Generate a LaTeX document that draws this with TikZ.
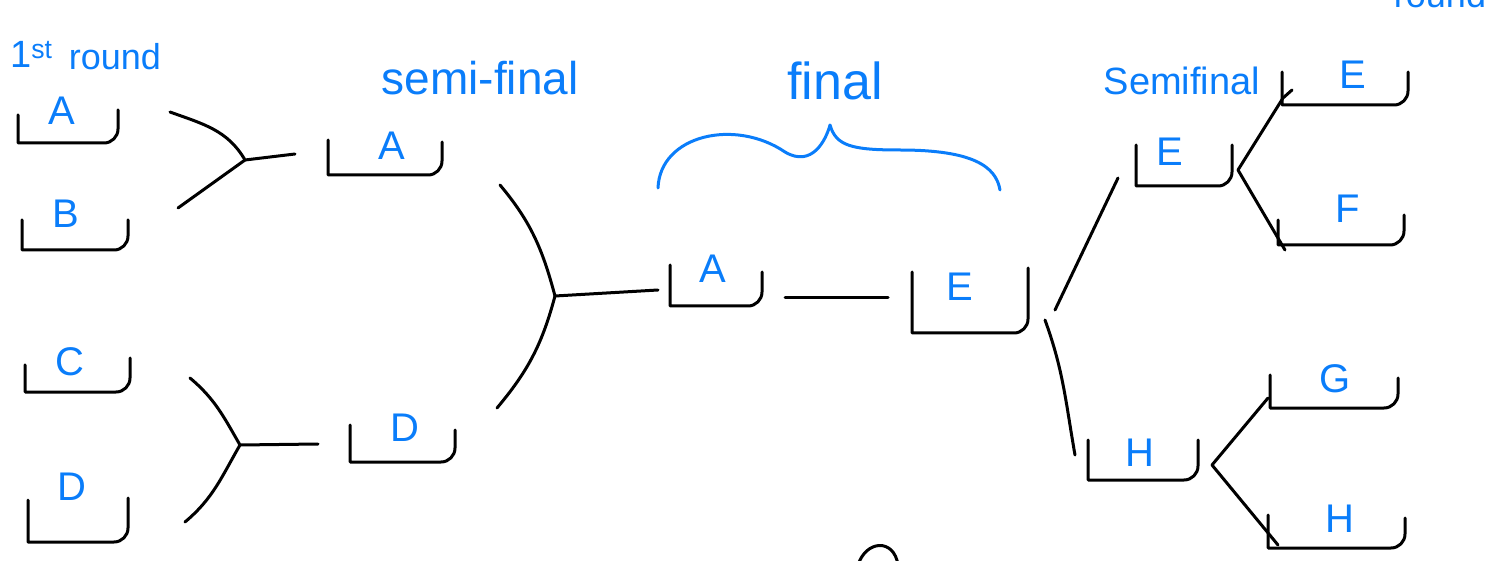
\documentclass[tikz,border=0pt]{standalone}
\usepackage{fontspec}
\setmainfont{Liberation Sans}

\definecolor{ink}{RGB}{10,125,250}

\tikzset{
  stroke/.style={line width=3pt, line cap=round, line join=round},
  team/.style={text=ink, font=\fontsize{40}{40}\selectfont, inner sep=0pt, anchor=base},
  heading/.style={text=ink, font=\fontsize{46}{46}\selectfont, inner sep=0pt, anchor=base},
}

% name, left x, right x, left top, right top, bottom, letter x, letter base, letter
\newcommand{\drawslot}[9]{%
  \draw[stroke] (#2,#4) -- (#2,#6) -- (#3-14,#6) to[out=0,in=-90] (#3,#6-14) -- (#3,#5);
  \node[team] (#1) at (#7,#8) {#9};
}

\begin{document}
\begin{tikzpicture}[x=1pt, y=-1pt]
                \useasboundingbox (0,0) rectangle (1508,561);
                \clip (0,0) rectangle (1508,561);

                % Headings:
                \node[heading, anchor=base west, font=\fontsize{38}{38}\selectfont] (one) at (10,68) {1\textsuperscript{st}};
                \node[heading, font=\fontsize{36}{36}\selectfont] (rnd) at (115,70) {round};
                \node[heading] (semil) at (480,95) {semi-final};
                \node[heading, font=\fontsize{52}{52}\selectfont] (fin) at (835,100) {final};
                \node[heading, font=\fontsize{38}{38}\selectfont] (semir) at (1182,95) {Semifinal};
                \node[heading, font=\fontsize{36}{36}\selectfont] (rndr) at (1440,8) {round};

                % Brace over the final:
                \draw[ink, stroke] (658,188) .. controls (660,135) and (735,118) .. (785,152)
                      .. controls (812,168) and (826,140) .. (830,125)
                      .. controls (836,146) and (852,150) .. (900,150)
                      .. controls (972,150) and (996,166) .. (1000,190);

                % Slots:
                \drawslot{r1a}{18}{118}{115}{110}{143}{62}{125}{A}
                \drawslot{r1b}{22}{128}{220}{220}{250}{66}{228}{B}
                \drawslot{r1c}{25}{130}{365}{358}{392}{70}{376}{C}
                \drawslot{r1d}{28}{128}{500}{498}{542}{72}{500}{D}
                \drawslot{sfa}{328}{442}{140}{142}{175}{392}{160}{A}
                \drawslot{sfd}{350}{455}{425}{430}{462}{405}{441}{D}
                \drawslot{fna}{670}{762}{265}{272}{306}{713}{283}{A}
                \drawslot{fne}{912}{1028}{272}{268}{333}{960}{301}{E}
                \drawslot{sfe}{1136}{1232}{145}{145}{186}{1170}{166}{E}
                \drawslot{sfh}{1088}{1198}{440}{440}{480}{1140}{466}{H}
                \drawslot{r4e}{1282}{1408}{72}{72}{105}{1353}{89}{E}
                \drawslot{r4f}{1278}{1404}{220}{215}{245}{1348}{223}{F}
                \drawslot{r4g}{1270}{1398}{375}{378}{408}{1335}{392}{G}
                \drawslot{r4h}{1268}{1405}{515}{518}{548}{1340}{532}{H}

                % Joints and line ends:
                \coordinate (ab) at (245,160);
                \coordinate (ab-a) at (170,112);
                \coordinate (ab-b) at (178,208);
                \coordinate (ab-s) at (295,154);
                \coordinate (cd) at (240,445);
                \coordinate (cd-c) at (190,378);
                \coordinate (cd-d) at (185,522);
                \coordinate (cd-s) at (318,444);
                \coordinate (ad) at (555,296);
                \coordinate (ad-a) at (500,185);
                \coordinate (ad-d) at (497,408);
                \coordinate (ad-f) at (658,290);
                \coordinate (fa-r) at (785,298);
                \coordinate (fe-l) at (888,298);
                \coordinate (eh-e) at (1055,310);
                \coordinate (eh-h) at (1045,320);
                \coordinate (se-l) at (1118,178);
                \coordinate (sh-l) at (1075,455);
                \coordinate (ef) at (1238,170);
                \coordinate (ef-e) at (1283,98);
                \coordinate (ef-f) at (1285,250);
                \coordinate (gh) at (1212,465);
                \coordinate (gh-g) at (1268,398);
                \coordinate (gh-h) at (1278,545);

                % Connectors:
                \draw[stroke] (ab-a) to[out=-20,in=120] (ab) -- (ab-s);
                \draw[stroke] (ab-b) -- (ab);
                \draw[stroke] (cd-c) to[out=-40,in=120] (cd) -- (cd-s);
                \draw[stroke] (cd-d) to[out=40,in=-120] (cd);
                \draw[stroke] (ad-a) to[out=-50,in=105] (ad) -- (ad-f);
                \draw[stroke] (ad-d) to[out=50,in=-105] (ad);
                \draw[stroke] (fa-r) -- (fe-l);
                \draw[stroke] (eh-e) -- (se-l);
                \draw[stroke] (eh-h) to[out=-70,in=100] (sh-l);
                \draw[stroke] (ef) -- (ef-e) -- (1292,90);
                \draw[stroke] (ef) -- (ef-f);
                \draw[stroke] (gh) -- (gh-g);
                \draw[stroke] (gh) -- (gh-h);

                % Stray stroke at the bottom:
                \draw[stroke] (858,565) .. controls (866,540) and (894,538) .. (898,565);
\end{tikzpicture}
\end{document}
